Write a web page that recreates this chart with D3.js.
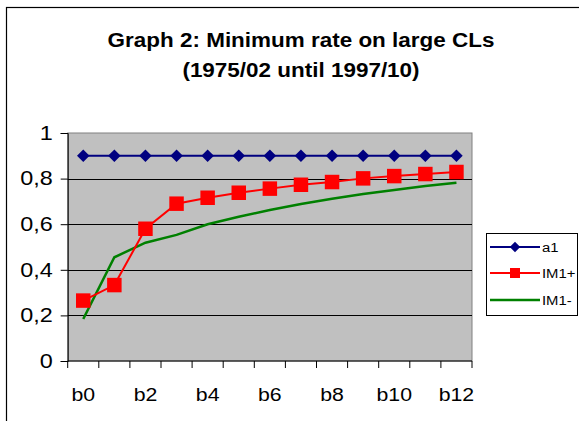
<!DOCTYPE html>
<html>
<head>
<meta charset="utf-8">
<script src="https://cdn.jsdelivr.net/npm/d3@7"></script>
<style>
  body { margin: 0; background: #fff; }
  svg text { font-family: "Liberation Sans", Arial, sans-serif; }
</style>
</head>
<body>
<div id="chart"></div>
<script>
// Data
const categories = ["b0","b1","b2","b3","b4","b5","b6","b7","b8","b9","b10","b11","b12"];
const a1 = [0.9,0.9,0.9,0.9,0.9,0.9,0.9,0.9,0.9,0.9,0.9,0.9,0.9];
const im1Plus = [0.265,0.333,0.58,0.69,0.716,0.738,0.756,0.773,0.785,0.801,0.811,0.82,0.829];
const im1Minus = [0.184,0.455,0.519,0.553,0.6,0.633,0.662,0.689,0.712,0.732,0.75,0.768,0.782];
const yTicks = [0, 0.2, 0.4, 0.6, 0.8, 1];
const xLabels = ["b0","b2","b4","b6","b8","b10","b12"];
const titleLines = ["Graph 2: Minimum rate on large CLs", "(1975/02 until 1997/10)"];

const W = 579, H = 421;
const plot = { left: 67.7, right: 472, top: 133, bottom: 361 };

const svg = d3.select("#chart").append("svg")
  .attr("width", W)
  .attr("height", H);

// outer chart frame (runs off the right and bottom edges)
svg.append("rect")
  .attr("x", 6.5).attr("y", 7.5)
  .attr("width", 620).attr("height", 440)
  .attr("fill", "#fff")
  .attr("stroke", "#000")
  .attr("stroke-width", 1.2);

// title
svg.append("g").selectAll("text")
  .data(titleLines)
  .enter().append("text")
  .attr("transform", (d, i) => `translate(301, ${47 + i * 30}) scale(1.07,1)`)
  .attr("text-anchor", "middle")
  .style("font-size", "21px")
  .style("font-weight", "bold")
  .text(d => d);

const x = d3.scaleBand()
  .domain(categories)
  .range([plot.left, plot.right])
  .padding(0);
const cx = c => x(c) + x.bandwidth() / 2;

const y = d3.scaleLinear()
  .domain([0, 1])
  .range([plot.bottom, plot.top]);

// plot area
svg.append("rect")
  .attr("x", plot.left).attr("y", plot.top)
  .attr("width", plot.right - plot.left)
  .attr("height", plot.bottom - plot.top)
  .attr("fill", "#c0c0c0")
  .attr("stroke", "#808080")
  .attr("stroke-width", 1);

// gridlines
svg.append("g").selectAll("line")
  .data(yTicks.filter(t => t > 0 && t < 1))
  .enter().append("line")
  .attr("x1", plot.left).attr("x2", plot.right)
  .attr("y1", d => Math.round(y(d)) + 0.5)
  .attr("y2", d => Math.round(y(d)) + 0.5)
  .attr("stroke", "#000")
  .attr("stroke-width", 1);

// y axis
const yAxis = svg.append("g")
  .attr("transform", `translate(${plot.left},0)`)
  .call(d3.axisLeft(y).tickValues(yTicks).tickSize(7).tickPadding(8)
    .tickFormat(d => d3.format(".1~f")(d).replace(".", ",")));
yAxis.attr("font-family", null);
yAxis.select(".domain").attr("stroke", "#000");
yAxis.selectAll(".tick text")
  .style("font-size", "19.5px")
  .attr("fill", "#000")
  .attr("transform", "scale(1.2,1)")
  .attr("x", -15 / 1.2);

// x axis: ticks on category boundaries, labels on every second category
const xAxisG = svg.append("g")
  .attr("transform", `translate(0,${plot.bottom})`);
xAxisG.append("line")
  .attr("x1", plot.left).attr("x2", plot.right)
  .attr("stroke", "#000");
const bounds = categories.map(c => x(c)).concat([plot.right]);
xAxisG.selectAll(".xtick")
  .data(bounds)
  .enter().append("line")
  .attr("class", "xtick")
  .attr("x1", d => d).attr("x2", d => d)
  .attr("y1", 0).attr("y2", 7)
  .attr("stroke", "#000");
xAxisG.selectAll(".xlabel")
  .data(xLabels)
  .enter().append("text")
  .attr("class", "xlabel")
  .attr("transform", d => `translate(${cx(d)},40) scale(1.12,1)`)
  .attr("text-anchor", "middle")
  .style("font-size", "19px")
  .text(d => d);

// series lines
const line = d3.line()
  .x((d, i) => cx(categories[i]))
  .y(d => y(d));

svg.append("path").datum(im1Minus)
  .attr("d", line).attr("fill", "none")
  .attr("stroke", "#008000").attr("stroke-width", 2.5);

svg.append("path").datum(a1)
  .attr("d", line).attr("fill", "none")
  .attr("stroke", "#000080").attr("stroke-width", 2);

svg.append("path").datum(im1Plus)
  .attr("d", line).attr("fill", "none")
  .attr("stroke", "#ff0000").attr("stroke-width", 2);

const diamond = d3.symbol().type(d3.symbolDiamond2).size(100);
const square = d3.symbol().type(d3.symbolSquare).size(210);

svg.append("g").selectAll("path")
  .data(a1)
  .enter().append("path")
  .attr("d", diamond)
  .attr("transform", (d, i) => `translate(${cx(categories[i])},${y(d)})`)
  .attr("fill", "#000080");

svg.append("g").selectAll("path")
  .data(im1Plus)
  .enter().append("path")
  .attr("d", square)
  .attr("transform", (d, i) => `translate(${cx(categories[i])},${y(d)})`)
  .attr("fill", "#ff0000");

// legend
const legendItems = [
  { name: "a1", color: "#000080", sym: "diamond" },
  { name: "IM1+", color: "#ff0000", sym: "square" },
  { name: "IM1-", color: "#008000", sym: null }
];
const legend = svg.append("g");
legend.append("rect")
  .attr("x", 486.5).attr("y", 233.5)
  .attr("width", 91).attr("height", 82)
  .attr("fill", "#fff").attr("stroke", "#000");
const li = legend.selectAll(".li")
  .data(legendItems)
  .enter().append("g")
  .attr("class", "li")
  .attr("transform", (d, i) => `translate(0,${[247, 273, 300][i]})`);
li.append("line")
  .attr("x1", 490).attr("x2", 540)
  .attr("stroke", d => d.color)
  .attr("stroke-width", d => d.sym ? 2 : 2.5);
li.filter(d => d.sym === "diamond").append("path")
  .attr("d", d3.symbol().type(d3.symbolDiamond2).size(70))
  .attr("transform", "translate(515,0)")
  .attr("fill", d => d.color);
li.filter(d => d.sym === "square").append("path")
  .attr("d", d3.symbol().type(d3.symbolSquare).size(100))
  .attr("transform", "translate(515,0)")
  .attr("fill", d => d.color);
li.append("text")
  .attr("transform", "translate(542,5) scale(1.1,1)")
  .style("font-size", "13.5px")
  .text(d => d.name);
</script>
</body>
</html>
